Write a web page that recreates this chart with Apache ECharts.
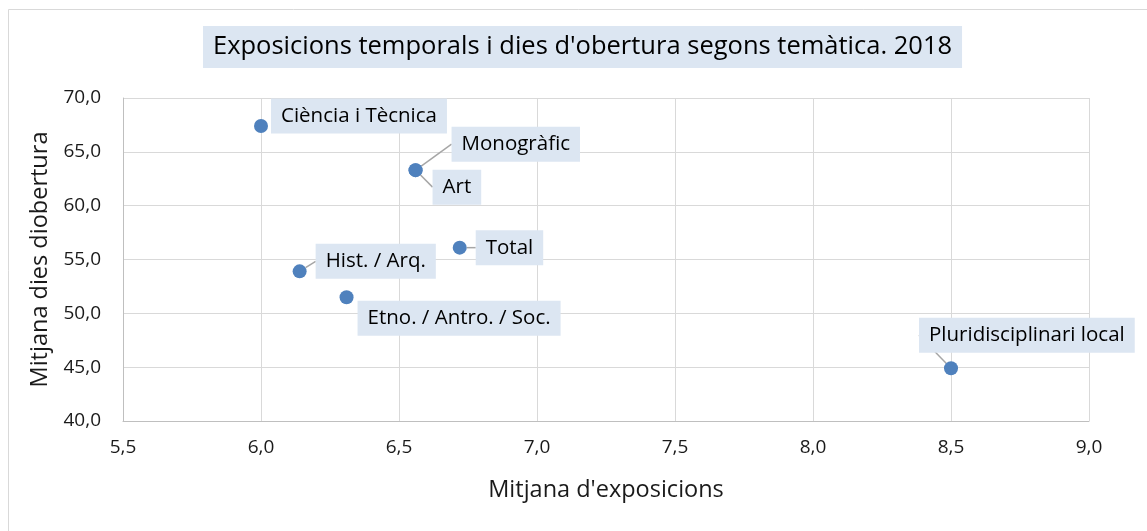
<!DOCTYPE html>
<html lang="ca">
<head>
<meta charset="UTF-8">
<title>Exposicions temporals i dies d'obertura</title>
<script src="https://cdn.jsdelivr.net/npm/echarts@6/dist/echarts.min.js"></script>
<style>
  html, body { margin: 0; padding: 0; background: #fff; }
  #chart { width: 1147px; height: 531px; }
</style>
</head>
<body>
<div id="chart"></div>
<script>
// dades llegides del gràfic
var categories = ['Ciència i Tècnica', 'Monogràfic', 'Art', 'Total', 'Hist. / Arq.', 'Etno. / Antro. / Soc.', 'Pluridisciplinari local'];
var exposicions = [6.0, 6.56, 6.56, 6.72, 6.14, 6.31, 8.5];
var diesObertura = [67.4, 63.3, 63.3, 56.1, 53.9, 51.5, 44.9];

// desplaçament de les etiquetes (dx, dy) i si porten línia guia
var labelShift = [[-2, -10], [24, -26], [5, 17], [4, 0], [4, -10], [-1, 21], [-44, -33]];
var leader = [false, true, true, true, true, false, true];

var font = 'Open Sans';
var fmt = function (v) { return v.toFixed(1).replace('.', ','); };

var chart = echarts.init(document.getElementById('chart'));

var points = categories.map(function (name, i) {
    return {
        name: name,
        value: [exposicions[i], diesObertura[i]],
        labelLine: { show: leader[i] }
    };
});

chart.setOption({
    backgroundColor: '#fff',
    animation: false,
    textStyle: { fontFamily: font },
    graphic: [{
        type: 'rect',
        shape: { x: 8.5, y: 9.5, width: 1300, height: 700 },
        style: { fill: 'none', stroke: '#d9d9d9', lineWidth: 1 },
        silent: true
    }],
    title: {
        text: "Exposicions temporals i dies d'obertura segons temàtica. 2018",
        left: 203,
        top: 26,
        backgroundColor: '#dce6f2',
        padding: [8, 10, 8, 10],
        textStyle: { fontFamily: font, fontSize: 25.5, fontWeight: 'normal', color: '#000' }
    },
    grid: { left: 123, right: 58, top: 98, bottom: 110 },
    xAxis: {
        type: 'value',
        min: 5.5, max: 9.0, interval: 0.5,
        name: "Mitjana d'exposicions",
        nameLocation: 'middle',
        nameGap: 57,
        nameTextStyle: { fontFamily: font, fontSize: 23.5, color: '#1a1a1a' },
        axisLine: { show: true, lineStyle: { color: '#bfbfbf' } },
        axisTick: { show: false },
        axisLabel: { margin: 17, fontSize: 19, color: '#1a1a1a', formatter: fmt },
        splitLine: { show: true, lineStyle: { color: '#d9d9d9' } }
    },
    yAxis: {
        type: 'value',
        min: 40, max: 70, interval: 5,
        name: 'Mitjana dies diobertura',
        nameLocation: 'middle',
        nameGap: 69,
        nameTextStyle: { fontFamily: font, fontSize: 23.5, color: '#1a1a1a' },
        axisLine: { show: true, lineStyle: { color: '#bfbfbf' } },
        axisTick: { show: false },
        axisLabel: { margin: 22, fontSize: 19, color: '#1a1a1a', formatter: fmt },
        splitLine: { show: true, lineStyle: { color: '#d9d9d9' } }
    },
    series: [{
        type: 'scatter',
        symbol: 'circle',
        symbolSize: 14,
        itemStyle: { color: '#4f81bd', opacity: 1 },
        data: points,
        label: {
            show: true,
            position: 'right',
            distance: 5,
            formatter: '{b}',
            fontFamily: font,
            fontSize: 20.5,
            color: '#000',
            backgroundColor: '#dce6f2',
            padding: [7, 10, 7, 10]
        },
        labelLine: { show: true, lineStyle: { color: '#a6a6a6', width: 1.5 } },
        labelLayout: function (p) {
            var s = labelShift[p.dataIndex];
            return { dx: s[0], dy: s[1] };
        }
    }]
});
</script>
</body>
</html>
